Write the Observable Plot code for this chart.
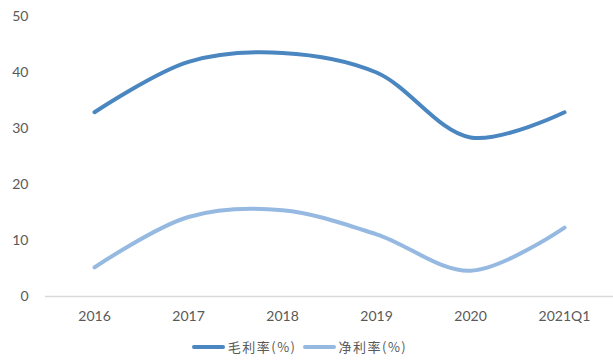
<!DOCTYPE html>
<html>
<head>
<meta charset="utf-8">
<script src="https://cdn.jsdelivr.net/npm/d3@7"></script>
<script src="https://cdn.jsdelivr.net/npm/@observablehq/plot@0.6"></script>
<style>
  html, body { margin: 0; padding: 0; background: #fff; }
  #chart { width: 613px; }
  .legend { display: flex; justify-content: center; align-items: center; height: 33px;
    font-family: "Noto Sans CJK SC", sans-serif; font-size: 13px; color: #595959; margin-left: -14px; }
  .item { display: flex; align-items: center; margin: 0 3px; }
  .item span.t { letter-spacing: 1.5px; }
  .sw { width: 33px; height: 4px; border-radius: 2px; margin-right: 3px; }
</style>
</head>
<body>
<div id="chart"></div>
<script>
// Years / periods on the x axis
const periods = ["2016", "2017", "2018", "2019", "2020", "2021Q1"];
// Gross margin (%) and net margin (%)
const grossMargin = [32.9, 41.9, 43.5, 40.0, 28.4, 32.9];
const netMargin = [5.2, 14.2, 15.4, 11.1, 4.6, 12.3];
const seriesNames = ["毛利率(%)", "净利率(%)"];
const seriesColors = ["#4a86c0", "#95b9e1"];
const yTicks = [0, 10, 20, 30, 40, 50];

const rows = [];
periods.forEach((p, i) => {
  rows.push({period: p, value: grossMargin[i], series: seriesNames[0]});
  rows.push({period: p, value: netMargin[i], series: seriesNames[1]});
});

const chart = Plot.plot({
  width: 613,
  height: 330,
  marginTop: 16,
  marginBottom: 34,
  marginLeft: 45,
  marginRight: 0,
  style: {fontFamily: "Lato, sans-serif", fontSize: "14px", color: "#595959", background: "#fff"},
  x: {type: "point", domain: periods, padding: 0.5, label: null},
  y: {domain: [0, 50], label: null},
  color: {domain: seriesNames, range: seriesColors},
  marks: [
    Plot.axisY({ticks: yTicks, tickSize: 0, tickPadding: 17, fontSize: 14, label: null}),
    Plot.axisX({tickSize: 0, tickPadding: 15, fontSize: 14, label: null}),
    Plot.ruleY([0], {stroke: "#d9d9d9", strokeWidth: 1.5}),
    Plot.line(rows, {x: "period", y: "value", stroke: "series", z: "series", strokeWidth: 4, curve: "catmull-rom", strokeLinecap: "round"})
  ]
});
document.getElementById("chart").appendChild(chart);

const legend = document.createElement("div");
legend.className = "legend";
seriesNames.forEach((name, i) => {
  const item = document.createElement("div");
  item.className = "item";
  const sw = document.createElement("span");
  sw.className = "sw";
  sw.style.background = seriesColors[i];
  const label = document.createElement("span");
  label.className = "t";
  label.textContent = name;
  item.appendChild(sw);
  item.appendChild(label);
  legend.appendChild(item);
});
document.getElementById("chart").appendChild(legend);
</script>
</body>
</html>
